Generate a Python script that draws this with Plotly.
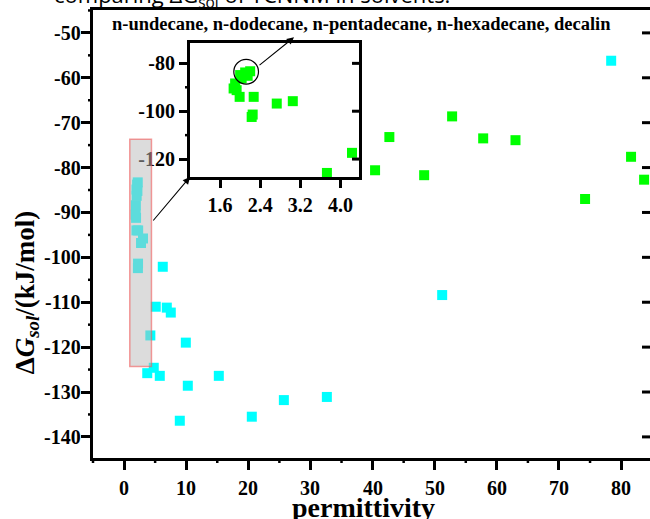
import numpy as np
import plotly.graph_objects as go

# ---------------- data ----------------
# low-permittivity solvents (shown cyan in main plot, green in inset)
low_eps = [2.20, 2.10, 2.00, 2.03, 2.15, 1.90, 1.87, 1.93, 1.99, 2.27, 2.73, 3.05, 2.25, 2.23, 3.73, 4.23]
low_dg = [-83.3, -83.8, -84.9, -86.3, -85.2, -88.4, -90.5, -91.2, -94.0, -94.0, -96.8, -95.8, -101.4, -102.4, -125.8, -117.4]

cyan_eps = [6.23, 5.10, 6.88, 7.52, 9.94, 4.78, 5.75, 15.25, 10.26, 25.72, 32.64, 20.56, 8.97, 51.2, 78.4]
cyan_dg = [-102.1, -111.0, -111.2, -112.3, -119.0, -124.6, -126.4, -126.4, -128.6, -131.8, -131.1, -135.5, -136.4, -108.4, -56.2]

green_eps = [52.8, 42.7, 57.8, 63.0, 36.5, 32.6, 40.4, 48.3, 81.6, 83.7, 74.2]
green_dg = [-68.6, -73.2, -73.5, -73.9, -76.6, -81.0, -80.6, -81.7, -77.6, -82.7, -87.0]

x_ticks = [0, 10, 20, 30, 40, 50, 60, 70, 80]
y_ticks = [-140, -130, -120, -110, -100, -90, -80, -70, -60, -50]
inset_x_ticks = [1.6, 2.4, 3.2, 4.0]
inset_y_ticks = [-120, -100, -80]
inset_y_minor = [-110, -90]

title_text = "comparing ΔG<sub>sol</sub> of TCNNM in solvents."
inset_label = "n-undecane, n-dodecane, n-pentadecane, n-hexadecane, decalin"

# ---------------- figure ----------------
SERIF = "Liberation Serif"
tf = dict(family=SERIF, size=20, color="black")
W, H = 650, 519
ML, MR, MT, MB = 93, 0, 10, 61
PW, PH = W - ML - MR, H - MT - MB

main_xr = [-5, 84.65]
main_yr = [-144.7, -44.9]
inset_xr = [1.0, 4.37]
inset_yr = [-127.5, -71.5]
inset_xdom = [0.1741, 0.4776]
inset_ydom = [0.6272, 0.9263]

y_minor = [v for v in np.arange(-145, -44, 5).tolist() if v not in y_ticks and main_yr[0] <= v <= main_yr[1]]
x_minor = [v for v in np.arange(-5, 86, 5).tolist() if v not in x_ticks and main_xr[0] <= v <= main_xr[1]]


def frac(v, r):
    return (v - r[0]) / (r[1] - r[0])


fig = go.Figure()
fig.add_trace(go.Scatter(x=cyan_eps + low_eps, y=cyan_dg + low_dg, mode="markers",
                         marker=dict(symbol="square", size=10, color="#00ffff", line=dict(width=0)),
                         showlegend=False, xaxis="x", yaxis="y"))
fig.add_trace(go.Scatter(x=green_eps, y=green_dg, mode="markers",
                         marker=dict(symbol="square", size=10, color="#00ff00", line=dict(width=0)),
                         showlegend=False, xaxis="x", yaxis="y"))
fig.add_trace(go.Scatter(x=low_eps, y=low_dg, mode="markers",
                         marker=dict(symbol="square", size=10, color="#00ff00", line=dict(width=0)),
                         showlegend=False, xaxis="x2", yaxis="y2"))

fig.update_layout(
    width=W, height=H,
    margin=dict(l=ML, r=MR, t=MT, b=MB),
    plot_bgcolor="white", paper_bgcolor="white",
    xaxis=dict(range=main_xr, domain=[0, 1], anchor="y",
               tickmode="array", tickvals=x_ticks, showticklabels=False,
               ticks="outside", ticklen=9, tickwidth=3, tickcolor="black",
               showline=True, linewidth=3, linecolor="black", mirror=True,
               showgrid=False, zeroline=False),
    yaxis=dict(range=main_yr, domain=[0, 1], anchor="x",
               tickmode="array", tickvals=y_ticks, showticklabels=False,
               ticks="outside", ticklen=9, tickwidth=3, tickcolor="black",
               showline=True, linewidth=3, linecolor="black",
               showgrid=False, zeroline=False),
    xaxis2=dict(range=inset_xr, domain=inset_xdom, anchor="y2",
                tickmode="array", tickvals=inset_x_ticks,
                ticktext=[f"<b>{v:.1f}</b>" for v in inset_x_ticks],
                ticks="outside", ticklen=8, tickwidth=3, tickcolor="black",
                showline=True, linewidth=3, linecolor="black", mirror=True,
                showgrid=False, zeroline=False, tickfont=tf),
    yaxis2=dict(range=inset_yr, domain=inset_ydom, anchor="x2",
                tickmode="array", tickvals=inset_y_ticks,
                ticktext=[f"<b>{v}</b>" for v in inset_y_ticks],
                ticks="outside", ticklen=8, tickwidth=3, tickcolor="black",
                showline=True, linewidth=3, linecolor="black", mirror=True,
                showgrid=False, zeroline=False, tickfont=tf),
)

# main tick labels
for v in x_ticks:
    fig.add_annotation(xref="x", yref="paper", x=v, y=0, yshift=-30, text=f"<b>{v}</b>",
                       showarrow=False, xanchor="center", yanchor="middle", font=tf)
for v in y_ticks:
    fig.add_annotation(xref="paper", yref="y", x=0, y=v, xshift=-10, text=f"<b>{v}</b>",
                       showarrow=False, xanchor="right", yanchor="middle", font=tf)

tick_line = dict(color="black", width=2.5)
# minor ticks (outside) on main x axis
for v in x_minor:
    px = frac(v, main_xr)
    fig.add_shape(type="line", xref="paper", yref="paper", x0=px, x1=px, y0=0, y1=-5 / PH,
                  line=tick_line)
# minor ticks (outside) on main y axis
for v in y_minor:
    py = frac(v, main_yr)
    fig.add_shape(type="line", xref="paper", yref="paper", x0=0, x1=-5 / PW, y0=py, y1=py,
                  line=tick_line)
# inward ticks on right side of main plot
for v in y_ticks:
    py = frac(v, main_yr)
    fig.add_shape(type="line", xref="paper", yref="paper", x0=1, x1=1 - 8 / PW, y0=py, y1=py,
                  line=dict(color="black", width=3))
# inset: minor ticks on left, inward ticks on right
for v in inset_y_minor:
    py = inset_ydom[0] + frac(v, inset_yr) * (inset_ydom[1] - inset_ydom[0])
    fig.add_shape(type="line", xref="paper", yref="paper", x0=inset_xdom[0], x1=inset_xdom[0] - 5 / PW,
                  y0=py, y1=py, line=tick_line)
for v in inset_y_ticks:
    py = inset_ydom[0] + frac(v, inset_yr) * (inset_ydom[1] - inset_ydom[0])
    fig.add_shape(type="line", xref="paper", yref="paper", x0=inset_xdom[1], x1=inset_xdom[1] - 7 / PW,
                  y0=py, y1=py, line=dict(color="black", width=3))

# highlighted region in the main plot
fig.add_shape(type="rect", xref="x", yref="y", x0=0.92, x1=4.41, y0=-124.3, y1=-73.7,
              fillcolor="rgba(186,186,186,0.5)", line=dict(color="rgba(240,90,90,0.6)", width=1.5),
              layer="above")
# circle in inset
fig.add_shape(type="circle", xref="x2", yref="y2", x0=2.12 - 0.246, x1=2.12 + 0.246,
              y0=-83.5 - 5.16, y1=-83.5 + 5.16, line=dict(color="black", width=1.2))

# arrows
fig.add_annotation(xref="paper", yref="paper", x=0.1741, y=0.6272, ax=-38, ay=45,
                   axref="pixel", ayref="pixel", showarrow=True, arrowhead=2, arrowsize=1.3,
                   arrowwidth=1.1, arrowcolor="black", text="")
fig.add_annotation(xref="paper", yref="paper", x=0.3609, y=0.939, ax=-36, ay=29,
                   axref="pixel", ayref="pixel", showarrow=True, arrowhead=2, arrowsize=1.3,
                   arrowwidth=1.1, arrowcolor="black", text="")

# texts
fig.add_annotation(xref="paper", yref="paper", x=0.4812, y=0.96875, text=f"<b>{inset_label}</b>",
                   showarrow=False, xanchor="center", yanchor="middle",
                   font=dict(family=SERIF, size=18.5, color="black"))
fig.add_annotation(xref="paper", yref="paper", x=0.6445, y=1.03125, text=title_text,
                   showarrow=False, xanchor="right", yanchor="middle",
                   font=dict(family="Open Sans", size=22, color="black"))
fig.add_annotation(xref="paper", yref="paper", x=0.4865, y=-0.1116, text="<b>permittivity</b>",
                   showarrow=False, xanchor="center", yanchor="middle",
                   font=dict(family=SERIF, size=28, color="black"))
fig.add_annotation(xref="paper", yref="paper", x=-0.1185, y=0.37,
                   text="<b>Δ<i>G</i><sub><i>sol</i></sub>/(kJ/mol)</b>", textangle=-90,
                   showarrow=False, xanchor="center", yanchor="middle",
                   font=dict(family=SERIF, size=27, color="black"))

fig.write_html("out.html")
